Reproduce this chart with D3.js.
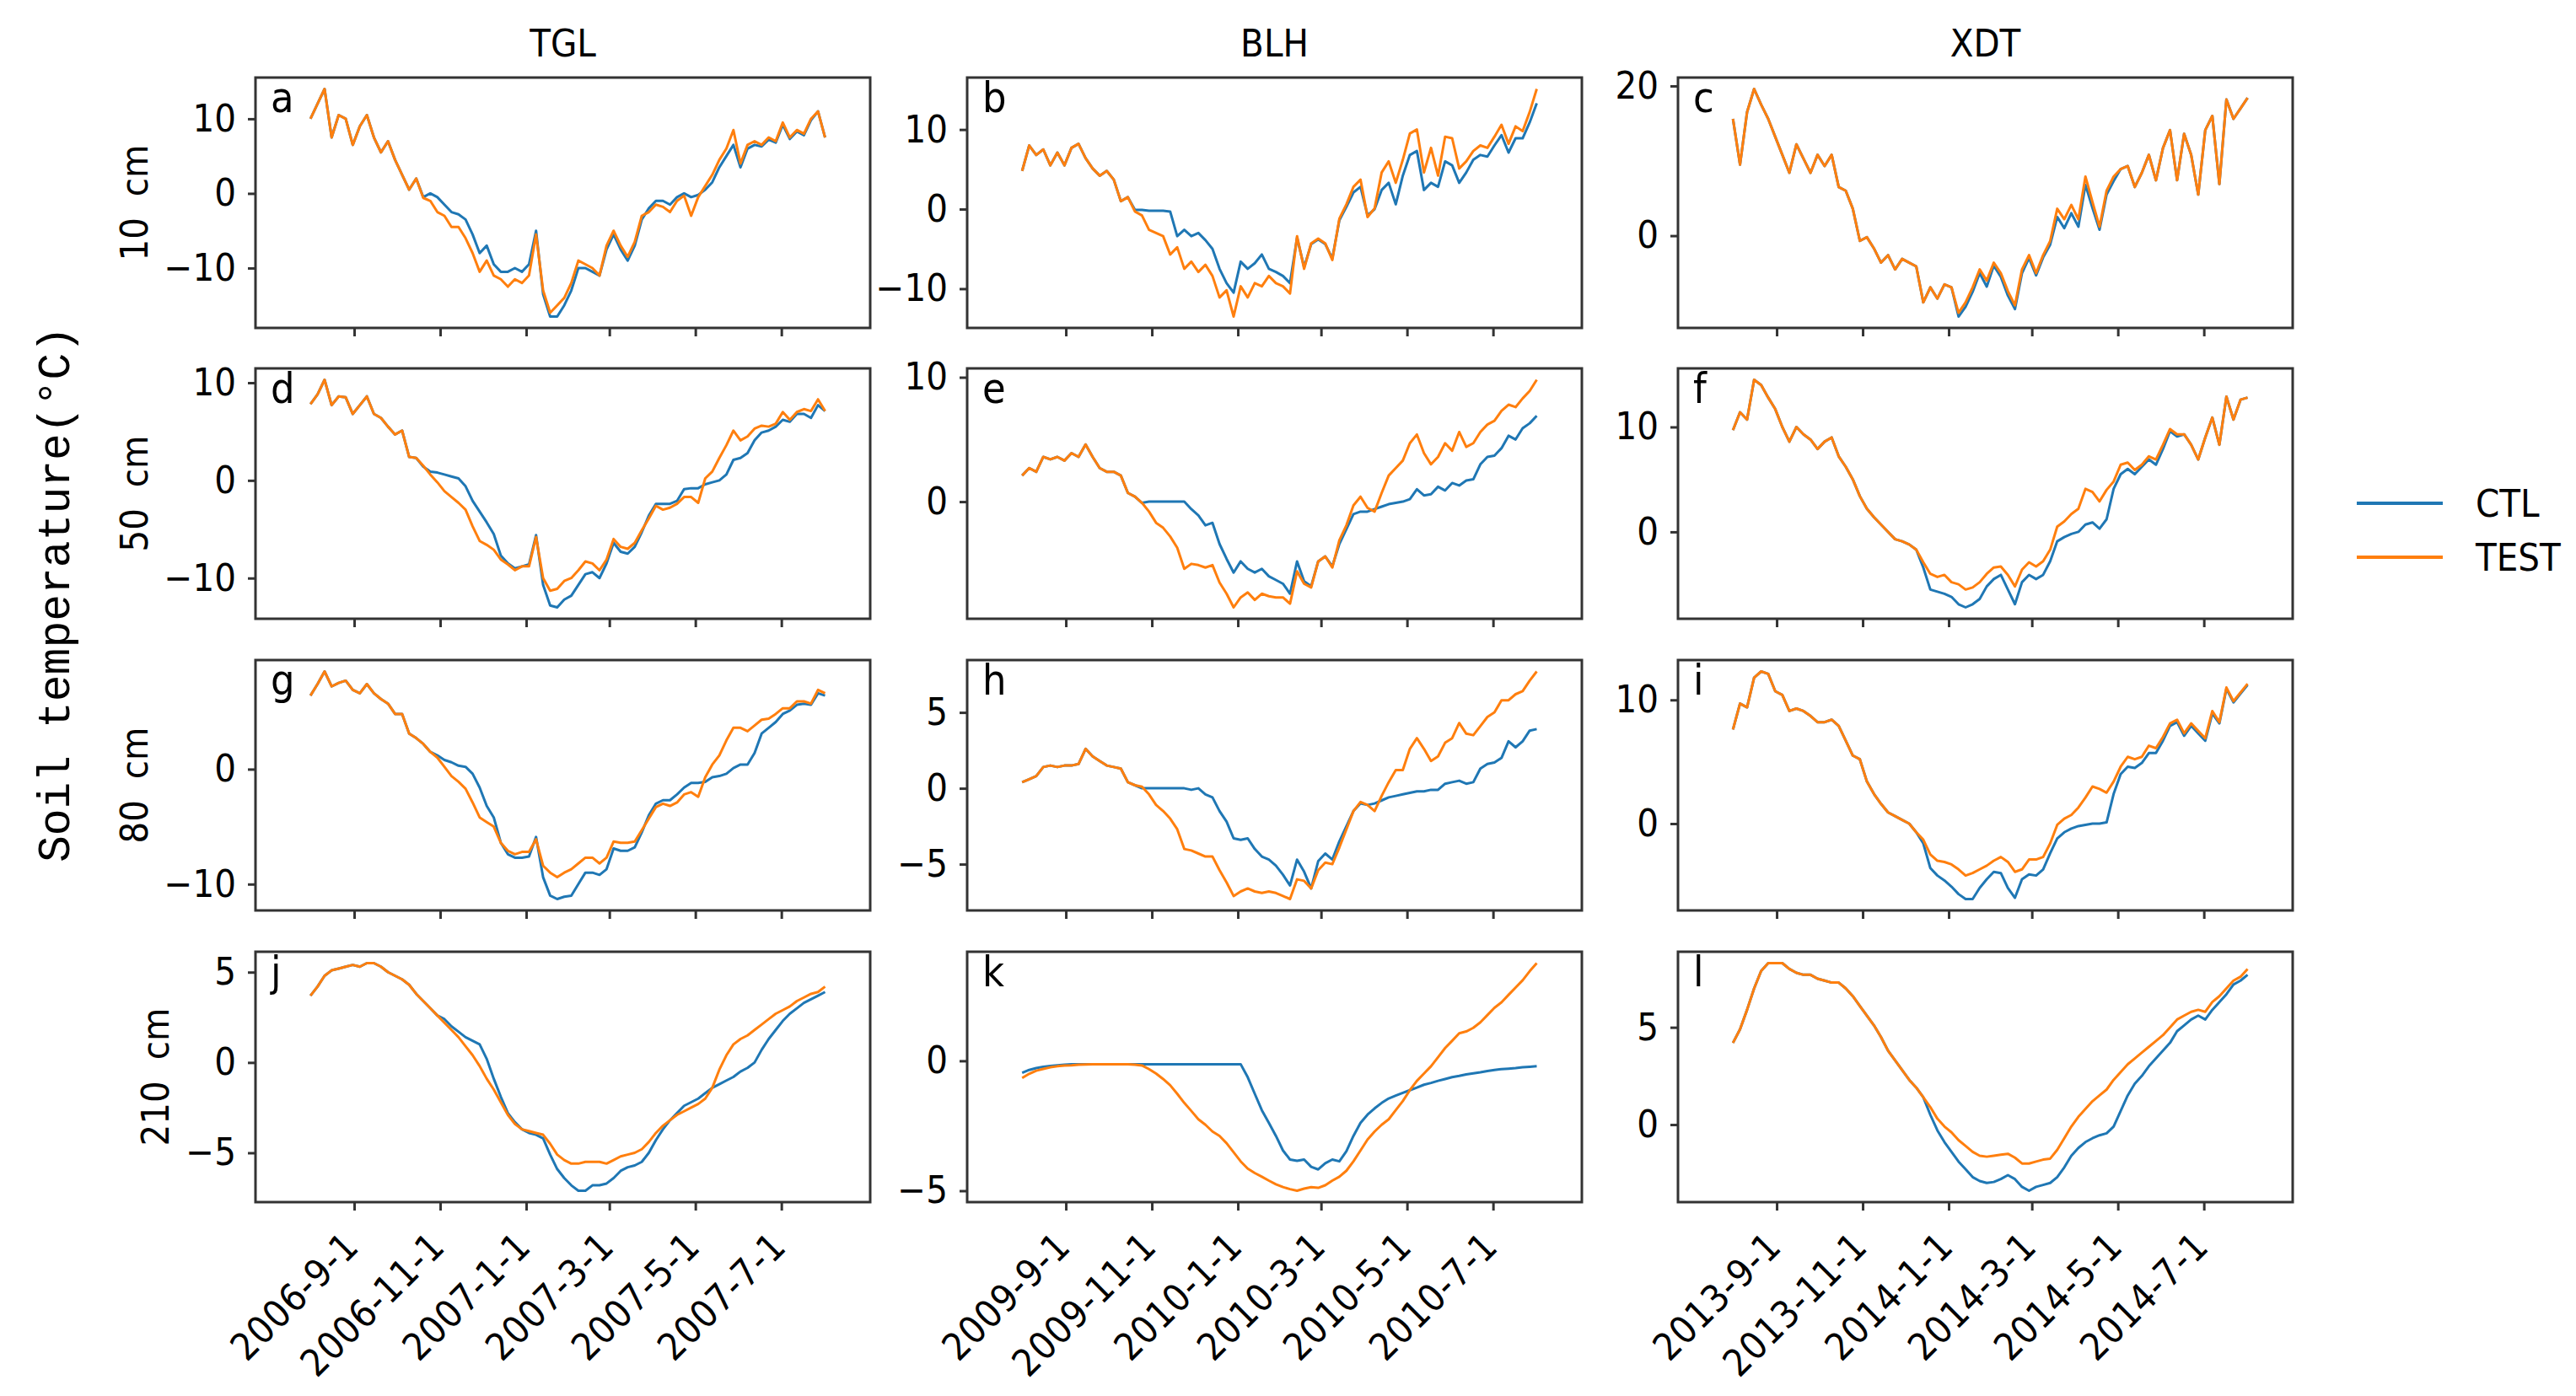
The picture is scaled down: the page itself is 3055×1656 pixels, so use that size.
<!DOCTYPE html>
<html>
<head>
<meta charset="utf-8">
<script src="https://cdn.jsdelivr.net/npm/d3@7"></script>
<style>
  body { margin: 0; background: #fff; }
  svg text { fill: #000; }
</style>
</head>
<body>
<div id="chart"></div>
<script>
// Column titles, depth labels, panel letters
var sites = ["TGL", "BLH", "XDT"];
var depths = ["10 cm", "50 cm", "80 cm", "210 cm"];
var letters = ["a", "b", "c", "d", "e", "f", "g", "h", "i", "j", "k", "l"];
var seriesNames = ["CTL", "TEST"];

// First day of each series (values are every 5 days from here)
var startDates = ["2006-08-01", "2009-08-01", "2013-08-01"];
var stepDays = 5;

// x tick dates per site
var tickDates = [
    ["2006-09-01", "2006-11-01", "2007-01-01", "2007-03-01", "2007-05-01", "2007-07-01"],
    ["2009-09-01", "2009-11-01", "2010-01-01", "2010-03-01", "2010-05-01", "2010-07-01"],
    ["2013-09-01", "2013-11-01", "2014-01-01", "2014-03-01", "2014-05-01", "2014-07-01"]
];

// y tick values, panels a..l
var yTickValues = [
    [10, 0, -10], [10, 0, -10], [20, 0],
    [10, 0, -10], [10, 0], [10, 0],
    [0, -10], [5, 0, -5], [10, 0],
    [5, 0, -5], [0, -5], [5, 0]
];

// TGL
var tgl10Test = [10, 12, 14, 7.5, 10.5, 10, 6.5, 9, 10.5, 7.5, 5.5, 7, 4.5, 2.5, 0.5, 2, -0.6, -1, -2.5, -3,
    -4.5, -4.5, -6, -8, -10.5, -9, -11, -11.5, -12.5, -11.5, -12, -11, -5.5, -13, -16, -15, -14, -12, -9, -9.5,
    -10, -11, -7, -5, -7, -8.5, -6.5, -3, -2.5, -1.5, -1.8, -2.5, -1, -0.3, -3, -0.5, 1, 2.5, 4.5, 6,
    8.5, 4, 6.5, 7, 6.5, 7.5, 7, 9.5, 7.5, 8.5, 8, 10, 11, 7.5];
var tgl10Ctl = [10, 12, 14, 7.5, 10.5, 10, 6.5, 9, 10.5, 7.5, 5.5, 7, 4.5, 2.5, 0.5, 2, -0.5, 0, -0.5, -1.5,
    -2.5, -2.8, -3.5, -5.5, -8, -7, -9.5, -10.5, -10.5, -10, -10.5, -9.5, -5, -13.5, -16.5, -16.5, -15, -13, -10, -10,
    -10.5, -11, -7.5, -5.5, -7.5, -9, -7, -3.5, -2, -1, -1, -1.5, -0.5, 0, -0.5, -0.2, 0.5, 1.5, 3.5, 5,
    6.5, 3.5, 6, 6.5, 6.3, 7.2, 6.8, 9.2, 7.3, 8.3, 7.8, 9.8, 11, 7.5];
var tgl50Test = [7.8, 8.8, 10.3, 7.7, 8.6, 8.5, 6.8, 7.7, 8.6, 6.8, 6.4, 5.5, 4.7, 5.1, 2.4, 2.3, 1.5, 0.6, -0.2, -1.1,
    -1.7, -2.3, -3, -4.7, -6.2, -6.6, -7.1, -8.1, -8.6, -9.2, -8.8, -8.8, -5.8, -10, -11.3, -11.1, -10.3, -10, -9.2, -8.3,
    -8.5, -9.2, -8.1, -6, -6.8, -7, -6.4, -5.1, -3.9, -2.6, -3, -2.8, -2.4, -1.7, -1.7, -2.3, 0.2, 0.9, 2.3, 3.6,
    5.1, 4.1, 4.5, 5.3, 5.6, 5.5, 5.8, 7, 6.2, 7, 7.3, 7.1, 8.3, 7.1];
var tgl50Ctl = [7.8, 8.8, 10.3, 7.7, 8.6, 8.5, 6.8, 7.7, 8.6, 6.8, 6.4, 5.5, 4.7, 5.1, 2.4, 2.3, 1.4, 0.9, 0.8, 0.6,
    0.4, 0.2, -0.6, -2.1, -3.2, -4.3, -5.5, -7.7, -8.5, -9, -8.8, -8.6, -5.6, -10.7, -12.8, -13, -12.2, -11.8, -10.7, -9.6,
    -9.4, -10, -8.5, -6.4, -7.3, -7.5, -6.8, -5.3, -3.6, -2.4, -2.4, -2.4, -2.1, -0.9, -0.8, -0.8, -0.4, -0.2, 0, 0.6,
    2.1, 2.3, 2.8, 4.1, 4.9, 5.1, 5.5, 6.2, 6, 6.8, 6.8, 6.4, 7.7, 7.1];
var tgl80Test = [6.4, 7.4, 8.5, 7.2, 7.5, 7.7, 6.9, 6.6, 7.4, 6.6, 6.1, 5.7, 4.8, 4.8, 3.1, 2.7, 2.2, 1.5, 1, 0.2,
    -0.6, -1.1, -1.7, -2.9, -4.2, -4.6, -5, -6.4, -7.1, -7.4, -7.2, -7.2, -6.1, -8.4, -9, -9.4, -9, -8.7, -8.2, -7.7,
    -7.7, -8.2, -7.7, -6.3, -6.4, -6.4, -6.3, -5.3, -4.3, -3.3, -3, -3.2, -2.9, -2.2, -2, -2.4, -0.7, 0.4, 1.2, 2.5,
    3.6, 3.6, 3.3, 3.8, 4.3, 4.4, 4.8, 5.3, 5.3, 5.9, 5.9, 5.7, 6.9, 6.6];
var tgl80Ctl = [6.4, 7.4, 8.5, 7.2, 7.5, 7.7, 6.9, 6.6, 7.4, 6.6, 6.1, 5.7, 4.8, 4.8, 3.1, 2.7, 2.2, 1.5, 1.2, 0.8,
    0.6, 0.3, 0.2, -0.4, -1.6, -3.2, -4.2, -6.4, -7.4, -7.7, -7.7, -7.6, -5.9, -9.4, -11, -11.3, -11.1, -11, -10, -9,
    -9, -9.2, -8.7, -6.9, -7.1, -7.1, -6.8, -5.5, -4, -3, -2.7, -2.7, -2.2, -1.6, -1.2, -1.2, -1.1, -0.7, -0.6, -0.4,
    0.1, 0.4, 0.4, 1.4, 3.1, 3.6, 4.1, 4.8, 5.1, 5.6, 5.7, 5.6, 6.6, 6.4];
var tgl210Test = [3.7, 4.2, 4.8, 5.1, 5.2, 5.3, 5.4, 5.3, 5.5, 5.5, 5.3, 5, 4.8, 4.6, 4.3, 3.8, 3.4, 3, 2.6, 2.2,
    1.8, 1.4, 0.9, 0.4, -0.2, -0.9, -1.5, -2.2, -2.9, -3.4, -3.7, -3.8, -3.9, -4, -4.5, -5.1, -5.4, -5.6, -5.6, -5.5,
    -5.5, -5.5, -5.6, -5.4, -5.2, -5.1, -5, -4.8, -4.4, -3.9, -3.5, -3.2, -2.9, -2.7, -2.5, -2.3, -2, -1.4, -0.4, 0.4,
    1, 1.3, 1.5, 1.8, 2.1, 2.4, 2.7, 2.9, 3.1, 3.4, 3.6, 3.8, 3.9, 4.2];
var tgl210Ctl = [3.7, 4.2, 4.8, 5.1, 5.2, 5.3, 5.4, 5.3, 5.5, 5.5, 5.3, 5, 4.8, 4.6, 4.3, 3.8, 3.4, 3, 2.6, 2.4,
    2, 1.7, 1.4, 1.2, 1, 0.2, -0.9, -1.9, -2.8, -3.3, -3.7, -3.9, -4, -4.2, -5.1, -5.9, -6.4, -6.8, -7.1, -7.1,
    -6.8, -6.8, -6.7, -6.4, -6, -5.8, -5.7, -5.5, -5, -4.3, -3.7, -3.2, -2.8, -2.4, -2.2, -2, -1.7, -1.4, -1.2, -1,
    -0.8, -0.5, -0.3, 0, 0.7, 1.3, 1.8, 2.3, 2.7, 3, 3.3, 3.5, 3.7, 3.9];

// BLH
var blh10Test = [4.8, 8, 6.8, 7.5, 5.5, 7.1, 5.5, 7.7, 8.2, 6.4, 5.1, 4.2, 4.8, 3.7, 1, 1.5, -0.3, -0.8, -2.6, -3,
    -3.4, -5.7, -4.8, -7.5, -6.6, -7.9, -7, -8.4, -11.1, -10.2, -13.5, -9.7, -11.1, -9.3, -9.7, -8.4, -9.3, -9.7, -10.6, -3.4,
    -7.5, -4.3, -3.7, -4.3, -6.4, -1.2, 0.6, 2.8, 3.7, -1, 0.1, 4.6, 6, 3.3, 6.2, 9.5, 10, 4.6, 7.7, 4.2,
    9.1, 8.9, 5.1, 6, 7.3, 8, 7.7, 9.1, 10.6, 8.2, 10.4, 9.8, 12.2, 15.1];
var blh10Ctl = [4.8, 8, 6.8, 7.5, 5.5, 7.1, 5.5, 7.7, 8.2, 6.4, 5.1, 4.2, 4.8, 3.7, 1, 1.5, -0.1, -0.1, -0.2, -0.2,
    -0.2, -0.3, -3.4, -2.6, -3.4, -3, -3.9, -5, -7.5, -9.3, -10.5, -6.6, -7.5, -6.8, -5.7, -7.5, -7.9, -8.4, -9.3, -3.6,
    -7.3, -4.4, -3.8, -4.4, -6.2, -1.4, 0.3, 2.1, 2.8, -0.8, 0, 2.4, 3.3, 0.6, 4.2, 6.8, 7.3, 2.4, 3.3, 2.8,
    6, 5.5, 3.3, 4.6, 6.2, 6.8, 6.6, 8, 9.3, 7.1, 8.9, 8.9, 10.9, 13.3];
var blh50Test = [2.1, 2.7, 2.4, 3.6, 3.4, 3.6, 3.3, 3.9, 3.6, 4.6, 3.6, 2.7, 2.4, 2.4, 2.1, 0.7, 0.4, -0.1, -0.8, -1.7,
    -2.1, -2.8, -3.7, -5.4, -5, -5.1, -5.3, -5.1, -6.5, -7.4, -8.5, -7.7, -7.3, -7.9, -7.4, -7.6, -7.7, -7.7, -8.2, -5.6,
    -6.6, -6.9, -4.8, -4.4, -5.3, -3.1, -1.9, -0.3, 0.4, -0.5, -0.8, 0.7, 2.1, 2.7, 3.3, 4.7, 5.4, 3.9, 3, 3.6,
    4.7, 4.1, 5.6, 4.4, 4.7, 5.6, 6.2, 6.5, 7.3, 7.8, 7.6, 8.3, 8.9, 9.8];
var blh50Ctl = [2.1, 2.7, 2.4, 3.6, 3.4, 3.6, 3.3, 3.9, 3.6, 4.6, 3.6, 2.7, 2.4, 2.4, 2.1, 0.7, 0.4, -0.1, 0, 0,
    0, 0, 0, 0, -0.6, -1.1, -1.9, -1.7, -3.4, -4.6, -5.7, -4.8, -5.4, -5.7, -5.4, -6, -6.3, -6.6, -7.4, -4.8,
    -6.4, -6.8, -4.8, -4.4, -5.2, -3.4, -2.2, -1, -0.8, -0.8, -0.6, -0.4, -0.2, -0.1, 0, 0.2, 1, 0.5, 0.6, 1.2,
    0.9, 1.5, 1.3, 1.7, 1.8, 3, 3.6, 3.7, 4.3, 5.3, 5, 5.9, 6.3, 6.9];
var blh80Test = [0.4, 0.6, 0.8, 1.4, 1.5, 1.4, 1.5, 1.5, 1.6, 2.6, 2.1, 1.8, 1.5, 1.4, 1.3, 0.4, 0.2, 0.1, -0.4, -1.1,
    -1.5, -2, -2.7, -4, -4.1, -4.3, -4.5, -4.5, -5.4, -6.2, -7.1, -6.8, -6.6, -6.8, -6.9, -6.8, -6.9, -7.1, -7.3, -6,
    -6.1, -6.6, -5.4, -4.9, -5, -3.9, -2.7, -1.5, -0.9, -1.1, -1.5, -0.5, 0.4, 1.2, 1.2, 2.6, 3.3, 2.6, 1.8, 2.1,
    3, 3.3, 4.3, 3.6, 3.5, 4.1, 4.7, 5, 5.8, 5.8, 6.2, 6.4, 7.1, 7.7];
var blh80Ctl = [0.4, 0.6, 0.8, 1.4, 1.5, 1.4, 1.5, 1.5, 1.6, 2.6, 2.1, 1.8, 1.5, 1.4, 1.3, 0.4, 0.2, 0, 0, 0,
    0, 0, 0, 0, -0.1, 0, -0.4, -0.6, -1.5, -2.2, -3.3, -3.4, -3.3, -4, -4.5, -4.7, -5.1, -5.7, -6.4, -4.7,
    -5.5, -6.6, -4.8, -4.3, -4.7, -3.5, -2.5, -1.5, -1, -1.1, -1, -0.8, -0.6, -0.5, -0.4, -0.3, -0.2, -0.2, -0.1, -0.1,
    0.3, 0.4, 0.5, 0.3, 0.4, 1.3, 1.6, 1.7, 2, 3.1, 2.7, 3.1, 3.8, 3.9];
var blh210Test = [-0.66, -0.5, -0.38, -0.31, -0.25, -0.21, -0.18, -0.17, -0.15, -0.14, -0.13, -0.13, -0.13, -0.13, -0.13, -0.13, -0.15, -0.18, -0.32, -0.49,
    -0.7, -0.94, -1.27, -1.62, -1.93, -2.25, -2.46, -2.72, -2.89, -3.17, -3.52, -3.87, -4.15, -4.32, -4.46, -4.61, -4.75, -4.86, -4.94, -5,
    -4.92, -4.86, -4.89, -4.79, -4.61, -4.46, -4.23, -3.87, -3.45, -3.03, -2.72, -2.46, -2.25, -1.9, -1.55, -1.13, -0.77, -0.49, -0.21, 0.14,
    0.49, 0.77, 1.06, 1.13, 1.27, 1.48, 1.76, 2.04, 2.25, 2.54, 2.82, 3.1, 3.45, 3.76];
var blh210Ctl = [-0.46, -0.35, -0.28, -0.23, -0.2, -0.17, -0.15, -0.13, -0.13, -0.13, -0.13, -0.13, -0.13, -0.13, -0.13, -0.13, -0.13, -0.13, -0.13, -0.13,
    -0.13, -0.13, -0.13, -0.13, -0.13, -0.13, -0.13, -0.13, -0.13, -0.13, -0.13, -0.13, -0.63, -1.27, -1.9, -2.39, -2.89, -3.45, -3.8, -3.85,
    -3.8, -4.08, -4.18, -3.94, -3.8, -3.87, -3.48, -2.89, -2.39, -2.07, -1.83, -1.62, -1.45, -1.34, -1.23, -1.13, -1.03, -0.92, -0.85, -0.77,
    -0.7, -0.63, -0.58, -0.52, -0.48, -0.44, -0.39, -0.35, -0.32, -0.3, -0.28, -0.25, -0.23, -0.21];

// XDT
var xdt10Test = [15.6, 9.5, 16.5, 19.6, 17.5, 15.6, 13.2, 10.8, 8.4, 12.2, 10.3, 8.4, 10.8, 9.3, 10.8, 6.5, 6, 3.6, -0.7, -0.2,
    -1.7, -3.6, -2.6, -4.5, -3.1, -3.6, -4.1, -8.9, -6.9, -8.4, -6.5, -6.9, -10.3, -8.9, -6.9, -4.5, -6, -3.6, -5, -7.4,
    -9.3, -4.5, -2.6, -5, -2.6, -0.7, 3.6, 2.2, 4.1, 2.2, 7.9, 4.5, 1.2, 6, 7.9, 8.9, 9.3, 6.5, 8.4, 10.8,
    7.4, 11.7, 14.1, 7.4, 13.6, 10.8, 5.5, 14.1, 16, 6.9, 18.2, 15.6, 17, 18.4];
var xdt10Ctl = [15.6, 9.5, 16.5, 19.6, 17.5, 15.6, 13.2, 10.8, 8.4, 12.2, 10.3, 8.4, 10.8, 9.3, 10.8, 6.5, 6, 3.6, -0.7, -0.2,
    -1.7, -3.6, -2.6, -4.5, -3.1, -3.6, -4.1, -8.9, -6.9, -8.4, -6.5, -6.9, -10.8, -9.5, -7.5, -5, -6.8, -4, -5.5, -8,
    -9.8, -5, -3, -5.3, -2.9, -1.2, 2.5, 1, 3, 1.2, 6.8, 3.7, 0.8, 5.5, 7.3, 8.9, 9.3, 6.5, 8.4, 10.8,
    7.4, 11.7, 14.1, 7.4, 13.6, 10.8, 5.5, 14.1, 16, 6.9, 18.2, 15.6, 17, 18.4];
var xdt50Test = [9.7, 11.4, 10.7, 14.5, 14, 12.8, 11.7, 10, 8.6, 10, 9.3, 8.8, 7.9, 8.6, 9, 7.2, 6.2, 5, 3.4, 2.2,
    1.4, 0.7, 0, -0.7, -0.9, -1.2, -1.7, -2.9, -4, -4.3, -4.1, -4.8, -5, -5.5, -5.3, -4.8, -4, -3.4, -3.3, -4.1,
    -5.2, -3.6, -2.9, -3.3, -2.8, -1.7, 0.5, 1, 1.7, 2.2, 4.1, 3.8, 2.9, 4, 4.8, 6.4, 6.6, 5.9, 6.4, 7.2,
    6.9, 8.3, 9.8, 9.3, 9.3, 8.3, 6.9, 9, 10.9, 8.3, 12.9, 10.7, 12.6, 12.8];
var xdt50Ctl = [9.7, 11.4, 10.7, 14.5, 14, 12.8, 11.7, 10, 8.6, 10, 9.3, 8.8, 7.9, 8.6, 9, 7.2, 6.2, 5, 3.4, 2.2,
    1.4, 0.7, 0, -0.7, -0.9, -1.2, -1.7, -3.4, -5.5, -5.7, -5.9, -6.2, -6.9, -7.2, -6.9, -6.4, -5.2, -4.5, -4.1, -5.5,
    -6.9, -4.8, -4.1, -4.5, -4.1, -2.8, -0.9, -0.5, -0.2, 0, 0.7, 0.9, 0.3, 1.2, 4.1, 5.5, 6, 5.5, 6.2, 6.9,
    6.4, 7.9, 9.6, 9.1, 9.3, 8.3, 6.9, 9, 10.9, 8.3, 12.9, 10.7, 12.6, 12.8];
var xdt80Test = [7.6, 9.7, 9.4, 11.8, 12.3, 12.1, 10.7, 10.4, 9.1, 9.3, 9.1, 8.7, 8.2, 8.2, 8.4, 7.9, 6.7, 5.5, 5.2, 3.4,
    2.4, 1.6, 0.9, 0.6, 0.3, 0, -0.7, -1.3, -2.5, -3, -3.1, -3.3, -3.7, -4.2, -4, -3.7, -3.4, -3, -2.7, -3.1,
    -3.9, -3.7, -2.9, -2.9, -2.7, -1.6, -0.1, 0.4, 0.7, 1.3, 2.1, 3, 2.8, 2.5, 3.4, 4.6, 5.4, 5.2, 5.4, 6.3,
    6.1, 7, 8.1, 8.4, 7.3, 8.1, 7.5, 6.9, 9.1, 8.2, 11, 9.9, 10.6, 11.3];
var xdt80Ctl = [7.6, 9.7, 9.4, 11.8, 12.3, 12.1, 10.7, 10.4, 9.1, 9.3, 9.1, 8.7, 8.2, 8.2, 8.4, 7.9, 6.7, 5.5, 5.2, 3.4,
    2.4, 1.6, 0.9, 0.6, 0.3, 0, -0.7, -1.6, -3.6, -4.2, -4.6, -5.1, -5.7, -6.1, -6.1, -5.2, -4.5, -3.9, -4, -5.2,
    -6, -4.5, -4.1, -4.2, -3.7, -2.4, -1.2, -0.7, -0.4, -0.2, -0.1, 0, 0, 0.1, 2.4, 4, 4.6, 4.5, 4.9, 5.7,
    5.7, 6.7, 7.9, 8.2, 7.1, 7.9, 7.3, 6.7, 8.9, 8.1, 10.9, 9.8, 10.5, 11.2];
var xdt210Test = [4.2, 4.9, 5.9, 7, 7.9, 8.3, 8.3, 8.3, 8, 7.8, 7.7, 7.7, 7.5, 7.4, 7.3, 7.3, 7, 6.6, 6.1, 5.6,
    5.1, 4.5, 3.8, 3.3, 2.8, 2.3, 1.9, 1.4, 0.9, 0.3, -0.1, -0.4, -0.8, -1.1, -1.4, -1.6, -1.65, -1.6, -1.55, -1.5,
    -1.7, -2, -2, -1.9, -1.8, -1.75, -1.3, -0.7, -0.1, 0.4, 0.8, 1.2, 1.5, 1.8, 2.3, 2.7, 3.1, 3.4, 3.7, 4,
    4.3, 4.6, 5, 5.4, 5.6, 5.8, 5.9, 5.8, 6.3, 6.6, 7, 7.4, 7.6, 8];
var xdt210Ctl = [4.2, 4.9, 5.9, 7, 7.9, 8.3, 8.3, 8.3, 8, 7.8, 7.7, 7.7, 7.5, 7.4, 7.3, 7.3, 7, 6.6, 6.1, 5.6,
    5.1, 4.5, 3.8, 3.3, 2.8, 2.3, 1.9, 1.4, 0.5, -0.3, -0.9, -1.4, -1.9, -2.3, -2.7, -2.9, -3, -2.95, -2.8, -2.6,
    -2.8, -3.2, -3.4, -3.2, -3.1, -3, -2.7, -2.2, -1.6, -1.2, -0.9, -0.7, -0.55, -0.45, -0.1, 0.7, 1.5, 2.1, 2.5, 3,
    3.4, 3.8, 4.2, 4.8, 5.1, 5.4, 5.6, 5.4, 5.9, 6.3, 6.7, 7.2, 7.4, 7.7];

// [row][col]
var ctlSeries = [
    [tgl10Ctl, blh10Ctl, xdt10Ctl],
    [tgl50Ctl, blh50Ctl, xdt50Ctl],
    [tgl80Ctl, blh80Ctl, xdt80Ctl],
    [tgl210Ctl, blh210Ctl, xdt210Ctl]
];
var testSeries = [
    [tgl10Test, blh10Test, xdt10Test],
    [tgl50Test, blh50Test, xdt50Test],
    [tgl80Test, blh80Test, xdt80Test],
    [tgl210Test, blh210Test, xdt210Test]
];

var colors = { CTL: "#1f77b4", TEST: "#ff7f0e" };

// Layout
var svgWidth = 3055;
var svgHeight = 1656;
var panelW = 729;
var panelH = 297;
var colX = [303, 1147, 1990];
var rowY = [92, 437, 783, 1129];

var narrow = "'Liberation Sans Narrow', 'Arial Narrow', 'DejaVu Sans Condensed', sans-serif";
var mono = "'Liberation Mono', 'DejaVu Sans Mono', monospace";

var parseDate = d3.timeParse("%Y-%m-%d");
var fmtDate = d3.timeFormat("%Y-%-m-%-d");

var svg = d3.select("#chart")
    .append("svg")
    .attr("width", svgWidth)
    .attr("height", svgHeight);

// Column titles
svg.selectAll(".col-title")
    .data(sites)
    .enter()
    .append("text")
    .attr("class", "col-title")
    .attr("x", (d, i) => colX[i] + panelW / 2)
    .attr("y", 67)
    .attr("text-anchor", "middle")
    .style("font-family", narrow)
    .style("font-size", "45px")
    .text(d => d);

depths.forEach((depth, r) => {
    sites.forEach((site, c) => {
        var start = parseDate(startDates[c]);
        var ctl = ctlSeries[r][c].map((v, i) => ({ date: d3.timeDay.offset(start, i * stepDays), v: v }));
        var test = testSeries[r][c].map((v, i) => ({ date: d3.timeDay.offset(start, i * stepDays), v: v }));

        var x = d3.scaleTime()
            .domain([d3.timeDay.offset(start, -39), d3.timeDay.offset(start, 365 + 32)])
            .range([0, panelW]);

        // matplotlib-like 5% margins
        var ext = d3.extent(ctl.concat(test), d => d.v);
        var pad = (ext[1] - ext[0]) * 0.05;
        var y = d3.scaleLinear()
            .domain([ext[0] - pad, ext[1] + pad])
            .range([panelH, 0]);

        var g = svg.append("g")
            .attr("transform", `translate(${colX[c]}, ${rowY[r]})`);

        var line = d3.line()
            .x(d => x(d.date))
            .y(d => y(d.v));

        g.append("path")
            .datum(ctl)
            .attr("d", line)
            .attr("fill", "none")
            .attr("stroke", colors.CTL)
            .attr("stroke-width", 3)
            .attr("stroke-linejoin", "round");

        g.append("path")
            .datum(test)
            .attr("d", line)
            .attr("fill", "none")
            .attr("stroke", colors.TEST)
            .attr("stroke-width", 3)
            .attr("stroke-linejoin", "round");

        // y axis
        var yAxisG = g.append("g")
            .call(d3.axisLeft(y)
                .tickValues(yTickValues[r * 3 + c])
                .tickSize(9)
                .tickPadding(14)
                .tickFormat(d3.format("d")));
        yAxisG.select(".domain").remove();
        yAxisG.selectAll("line").attr("stroke", "#333").attr("stroke-width", 3);
        yAxisG.selectAll("text")
            .style("font-family", narrow)
            .style("font-size", "45px")
            .attr("fill", "#000");

        // x axis
        var xTicks = tickDates[c].map(parseDate);
        var xAxisG = g.append("g")
            .attr("transform", `translate(0, ${panelH})`)
            .call(d3.axisBottom(x)
                .tickValues(xTicks)
                .tickSize(10)
                .tickFormat(""));
        xAxisG.select(".domain").remove();
        xAxisG.selectAll("line").attr("stroke", "#333").attr("stroke-width", 3);

        if (r === depths.length - 1) {
            g.selectAll(".date-label")
                .data(xTicks)
                .enter()
                .append("text")
                .attr("class", "date-label")
                .attr("transform", d => `translate(${x(d) + 8}, ${panelH + 55}) rotate(-45)`)
                .attr("text-anchor", "end")
                .style("font-family", narrow)
                .style("font-size", "45px")
                .style("letter-spacing", "1px")
                .text(d => fmtDate(d));
        }

        // frame
        g.append("rect")
            .attr("width", panelW)
            .attr("height", panelH)
            .attr("fill", "none")
            .attr("stroke", "#333")
            .attr("stroke-width", 3);

        // panel letter
        g.append("text")
            .attr("x", 18)
            .attr("y", 41)
            .style("font-family", narrow)
            .style("font-size", "50px")
            .text(letters[r * 3 + c]);

        // depth label on the first column
        if (c === 0) {
            var bb = yAxisG.node().getBBox();
            g.append("text")
                .attr("transform", `translate(${bb.x - 20}, ${panelH / 2}) rotate(-90)`)
                .attr("text-anchor", "middle")
                .style("font-family", narrow)
                .style("font-size", "45px")
                .style("word-spacing", "12px")
                .text(depth);
        }
    });
});

// Shared y label
svg.append("text")
    .attr("transform", "translate(82, 705) rotate(-90)")
    .attr("text-anchor", "middle")
    .style("font-family", mono)
    .style("font-size", "53px")
    .text("Soil temperature(°C)");

// Legend
var legend = svg.append("g")
    .attr("transform", "translate(2795, 597)");

legend.selectAll("line")
    .data(seriesNames)
    .enter()
    .append("line")
    .attr("x1", 0)
    .attr("x2", 102)
    .attr("y1", (d, i) => i * 64)
    .attr("y2", (d, i) => i * 64)
    .attr("stroke", d => colors[d])
    .attr("stroke-width", 4);

legend.selectAll("text")
    .data(seriesNames)
    .enter()
    .append("text")
    .attr("x", 141)
    .attr("y", (d, i) => i * 64)
    .attr("dy", "0.35em")
    .style("font-family", narrow)
    .style("font-size", "45px")
    .text(d => d);
</script>
</body>
</html>
